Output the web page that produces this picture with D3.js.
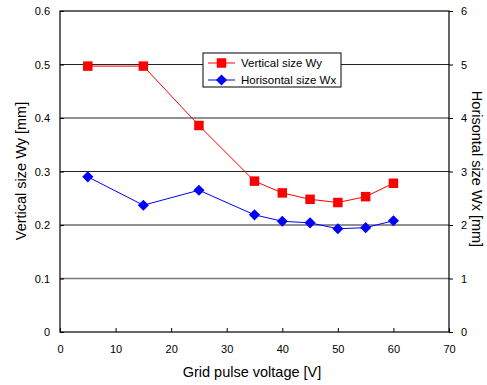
<!DOCTYPE html>
<html lang="en">
<head>
  <meta charset="UTF-8">
  <title>Grid pulse voltage vs beam size</title>
  <script src="https://d3js.org/d3.v7.min.js"></script>
  <style>
    body { margin: 0; background: #fff; font-family: "Liberation Sans", Arial, sans-serif; }
    svg { display: block; }
    .tick text { font-size: 11px; fill: #000; }
    .axis-title { font-size: 14.5px; fill: #000; }
    .legend text { font-size: 11.5px; }
  </style>
</head>
<body>
  <svg width="487" height="385"></svg>
  <script>
    const voltage = [5, 15, 25, 35, 40, 45, 50, 55, 60];
    const wy = [0.497, 0.497, 0.386, 0.282, 0.260, 0.248, 0.242, 0.253, 0.278];
    const wx = [2.90, 2.37, 2.65, 2.19, 2.07, 2.04, 1.93, 1.95, 2.08];
    const xTicks = [0, 10, 20, 30, 40, 50, 60, 70];
    const yLeftTicks = [0, 0.1, 0.2, 0.3, 0.4, 0.5, 0.6];
    const yRightTicks = [0, 1, 2, 3, 4, 5, 6];

    const margin = { top: 11, right: 38, bottom: 53, left: 60 };
    const width = 487 - margin.left - margin.right;
    const height = 385 - margin.top - margin.bottom;

    const svg = d3.select('svg');
    const g = svg.append('g').attr('transform', `translate(${margin.left},${margin.top})`);

    const x = d3.scaleLinear().domain([0, 70]).range([0, width]);
    const yL = d3.scaleLinear().domain([0, 0.6]).range([height, 0]);
    const yR = d3.scaleLinear().domain([0, 6]).range([height, 0]);

    // gridlines
    g.selectAll('.grid').data(yLeftTicks.filter(d => d > 0 && d < 0.6)).enter()
      .append('line')
      .attr('x1', 0).attr('x2', width)
      .attr('y1', d => yL(d)).attr('y2', d => yL(d))
      .attr('stroke', d => d === 0.1 ? '#777' : '#222')
      .attr('stroke-width', d => d === 0.1 ? 1.5 : 1);

    // frame
    g.append('rect').attr('width', width).attr('height', height)
      .attr('fill', 'none').attr('stroke', '#000').attr('stroke-width', 1.2);

    const xAxis = g.append('g').attr('transform', `translate(0,${height})`)
      .call(d3.axisBottom(x).tickValues(xTicks).tickSizeInner(-4).tickSizeOuter(0).tickPadding(13));
    const yAxisL = g.append('g')
      .call(d3.axisLeft(yL).tickValues(yLeftTicks).tickSizeInner(-4).tickSizeOuter(0).tickPadding(10)
        .tickFormat(d => d === 0 ? '0' : d3.format('.1f')(d)));
    const yAxisR = g.append('g').attr('transform', `translate(${width},0)`)
      .call(d3.axisRight(yR).tickValues(yRightTicks).tickSizeInner(4).tickSizeOuter(0).tickPadding(8)
        .tickFormat(d3.format('d')));
    [xAxis, yAxisL, yAxisR].forEach(a => {
      a.select('.domain').remove();
      a.selectAll('.tick line').attr('stroke', '#000');
    });

    // series
    const lineWy = d3.line().x((d, i) => x(voltage[i])).y(d => yL(d));
    const lineWx = d3.line().x((d, i) => x(voltage[i])).y(d => yR(d));

    g.append('path').datum(wy).attr('d', lineWy)
      .attr('fill', 'none').attr('stroke', '#ff0000').attr('stroke-width', 1);
    g.append('path').datum(wx).attr('d', lineWx)
      .attr('fill', 'none').attr('stroke', '#0000ff').attr('stroke-width', 1);

    const sq = d3.symbol().type(d3.symbolSquare).size(90);
    const dm = d3.symbol().type(d3.symbolSquare).size(62);   // rotated 45deg -> diamond

    g.selectAll('.wx').data(wx).enter().append('path')
      .attr('d', dm)
      .attr('transform', (d, i) => `translate(${x(voltage[i])},${yR(d)}) rotate(45)`)
      .attr('fill', '#0000ff');
    g.selectAll('.wy').data(wy).enter().append('path')
      .attr('d', sq)
      .attr('transform', (d, i) => `translate(${x(voltage[i])},${yL(d)})`)
      .attr('fill', '#ff0000');

    // legend
    const lg = svg.append('g').attr('class', 'legend').attr('transform', 'translate(203,53)');
    lg.append('rect').attr('width', 138).attr('height', 34)
      .attr('fill', '#fff').attr('stroke', '#000').attr('stroke-width', 1);
    const items = [
      { label: 'Vertical size Wy', color: '#ff0000', sym: sq, rot: 0, y: 10 },
      { label: 'Horisontal size Wx', color: '#0000ff', sym: dm, rot: 45, y: 27 }
    ];
    items.forEach(it => {
      lg.append('line').attr('x1', 5).attr('x2', 32).attr('y1', it.y).attr('y2', it.y)
        .attr('stroke', it.color).attr('stroke-width', 1);
      lg.append('path').attr('d', it.sym)
        .attr('transform', `translate(18.5,${it.y}) rotate(${it.rot})`).attr('fill', it.color);
      lg.append('text').attr('x', 38).attr('y', it.y + 4).text(it.label);
    });

    // axis titles
    svg.append('text').attr('class', 'axis-title')
      .attr('x', 252).attr('y', 377)
      .attr('text-anchor', 'middle').text('Grid pulse voltage [V]');
    svg.append('text').attr('class', 'axis-title')
      .attr('transform', 'translate(26,171) rotate(-90)')
      .attr('text-anchor', 'middle').text('Vertical size Wy [mm]');
    svg.append('text').attr('class', 'axis-title')
      .attr('transform', 'translate(472,169) rotate(90)')
      .attr('text-anchor', 'middle').text('Horisontal size Wx [mm]');
  </script>
</body>
</html>
